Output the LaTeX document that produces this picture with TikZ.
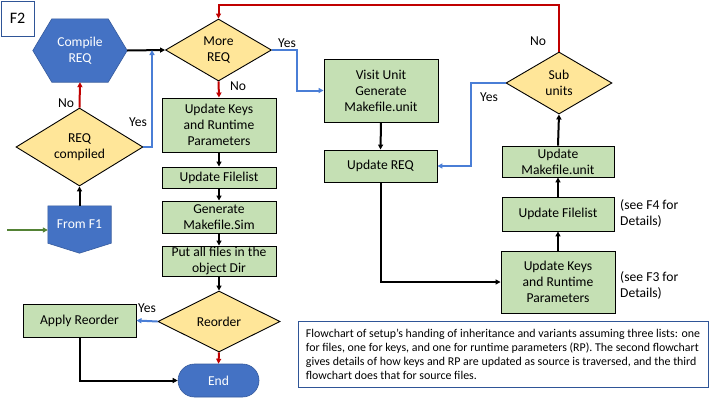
\documentclass[tikz,border=0pt]{standalone}
\usepackage{fontspec}
\setmainfont{Carlito}
\usetikzlibrary{shapes.geometric,shapes.misc,arrows.meta,calc}
\definecolor{boxgreen}{HTML}{C5E0B4}
\definecolor{dyellow}{HTML}{FFE699}
\definecolor{mblue}{HTML}{4472C4}
\definecolor{lred}{HTML}{C00000}
\definecolor{lblue}{HTML}{4A7ED6}
\definecolor{lgreen}{HTML}{548235}
\definecolor{capblue}{HTML}{2F5597}
\tikzset{
  txt/.style={font=\fontsize{13.6}{16}\selectfont},
  proc/.style={txt, draw=black, line width=0.9pt, fill=boxgreen, align=center, inner sep=0pt},
  decision/.style={txt, diamond, draw=black, line width=0.9pt, fill=dyellow, align=center, inner sep=0pt},
  ghost/.style={txt, text=white, align=center, inner sep=0pt},
  bluefill/.style={fill=mblue, draw=mblue!80!black, line width=0.6pt},
  lbl/.style={txt, inner sep=0pt},
  tip/.style={-{Triangle[length=5pt,width=5pt]}},
  blk/.style={tip, draw=black, line width=2pt},
  redl/.style={tip, draw=lred, line width=2pt},
  bluel/.style={tip, draw=lblue, line width=2pt},
  greenl/.style={tip, draw=lgreen, line width=2pt},
}
\begin{document}
\begin{tikzpicture}[x=1pt,y=-1pt]
\useasboundingbox (0,0) rectangle (720,405);
\fill[white] (0,0) rectangle (720,405);

% F2 label
\node[draw=capblue, line width=0.9pt, minimum width=33pt, minimum height=35pt, inner sep=0pt,
      font=\fontsize{16}{18}\selectfont] (ftwo) at (17.5,18.5) {F2};

% Compile REQ hexagon
\node[ghost, minimum width=94pt, minimum height=63pt] (compile) at (80,50.5) {};
\filldraw[bluefill] (compile.west) -- ($(compile.north west)+(19,0)$) -- ($(compile.north east)+(-19,0)$)
  -- (compile.east) -- ($(compile.south east)+(-19,0)$) -- ($(compile.south west)+(19,0)$) -- cycle;
\node[ghost] (compiletxt) at (compile.center) {Compile\\REQ};

% REQ compiled
\node[decision, minimum width=127pt, minimum height=60pt] (reqc) at (79.5,147) {REQ\\compiled};

% From F1
\node[ghost, minimum width=63pt, minimum height=37pt] (fromf1) at (79.5,224.5) {};
\filldraw[bluefill] (fromf1.north west) -- (fromf1.north east) -- (fromf1.south east)
  -- ($(fromf1.south)+(0,10)$) -- (fromf1.south west) -- cycle;
\node[ghost] (fromf1txt) at (fromf1.center) {From F1};
\coordinate (g0) at (7,230);

% Middle column
\node[decision, minimum width=106pt, minimum height=62pt] (more) at (218.5,50) {More\\REQ};
\node[proc, minimum width=114pt, minimum height=54pt] (keysm) at (219,125) {Update Keys\\and Runtime\\Parameters};
\node[proc, minimum width=114pt, minimum height=21pt] (filem) at (219,177.5) {Update Filelist};
\node[proc, minimum width=114pt, minimum height=32pt] (gensim) at (219,217) {Generate\\Makefile.Sim};
\node[proc, minimum width=114pt, minimum height=30pt] (putall) at (219,261) {Put all files in the\\object Dir};
\node[decision, minimum width=122pt, minimum height=61pt] (reorder) at (219,321.5) {Reorder};
\node[proc, minimum width=113pt, minimum height=33pt] (apply) at (79.5,320.5) {Apply Reorder};
\node[txt, rounded rectangle, bluefill, text=white, minimum width=81pt, minimum height=33pt, inner sep=0pt] (endn) at (218.5,380.5) {End};

% Right part
\node[proc, minimum width=114pt, minimum height=63pt] (visit) at (381,90.5) {Visit Unit\\Generate\\Makefile.unit};
\node[proc, minimum width=113pt, minimum height=32pt] (updreq) at (380.5,166) {Update REQ};
\node[decision, minimum width=106pt, minimum height=62pt] (sub) at (559,83) {Sub\\units};
\node[proc, minimum width=112pt, minimum height=31pt] (mkunit) at (558,161.5) {Update\\Makefile.unit};
\node[proc, minimum width=112pt, minimum height=34pt] (filer) at (558,214) {Update Filelist};
\node[proc, minimum width=114pt, minimum height=62pt] (keysr) at (558,282) {Update Keys\\and Runtime\\Parameters};
\node[txt, align=left, anchor=west, inner sep=0pt] (seef4) at (620,213.5) {(see F4 for\\Details)};
\node[txt, align=left, anchor=west, inner sep=0pt] (seef3) at (620,285) {(see F3 for\\Details)};

% Caption
\node[draw=capblue, line width=0.9pt, minimum width=410pt, minimum height=66pt, inner sep=0pt, align=left,
      font=\fontsize{11.9}{14}\selectfont] (cap) at (503,354)
  {Flowchart of setup’s handing of inheritance and variants assuming three lists: one\\
   for files, one for keys, and one for runtime parameters (RP). The second flowchart\\
   gives details of how keys and RP are updated as source is traversed, and the third\\
   flowchart does that for source files.};

% Connectors
\draw[blk] (compile.east) -- (more.west);
\coordinate (j1) at (152,50);
\draw[bluel] (reqc.east) -| (j1);
\draw[redl] (reqc.north) -- (compile.south);
\draw[blk] (fromf1.north) -- (reqc.south);
\draw[greenl] (g0) -- (g0 -| fromf1.west);

\draw[redl] (more.south) -- (keysm.north);
\draw[blk] (keysm.south) -- (filem.north);
\draw[blk] (filem.south) -- (gensim.north);
\draw[blk] (gensim.south) -- (putall.north);
\draw[blk] (putall.south) -- (reorder.north);
\draw[bluel] (reorder.west) -- (apply.east);
\draw[redl] (reorder.south) -- (endn.north);
\draw[blk] (apply.south) |- (endn.west);

\draw[bluel] (more.east) -- ++(25,0) |- (visit.west);
\draw[blk] (visit.south) -- (updreq.north);
\draw[blk] (updreq.south) |- (keysr.west);
\draw[blk] (keysr.north) -- (filer.south);
\draw[blk] (filer.north) -- (mkunit.south);
\draw[blk] (mkunit.north) -- (sub.south);
\draw[bluel] (sub.west) -- ++(-35,0) |- (updreq.east);
\coordinate (r1) at (559,5);
\draw[redl] (sub.north) -- (r1) -| (more.north);

% Labels
\node[lbl] (ly1) at (287,43) {Yes};
\node[lbl] (ln1) at (238,86) {No};
\node[lbl] (ln2) at (66,103) {No};
\node[lbl] (ly2) at (138,122) {Yes};
\node[lbl] (ly3) at (147,308) {Yes};
\node[lbl] (ln3) at (538,41) {No};
\node[lbl] (ly4) at (489,97) {Yes};
\end{tikzpicture}
\end{document}
